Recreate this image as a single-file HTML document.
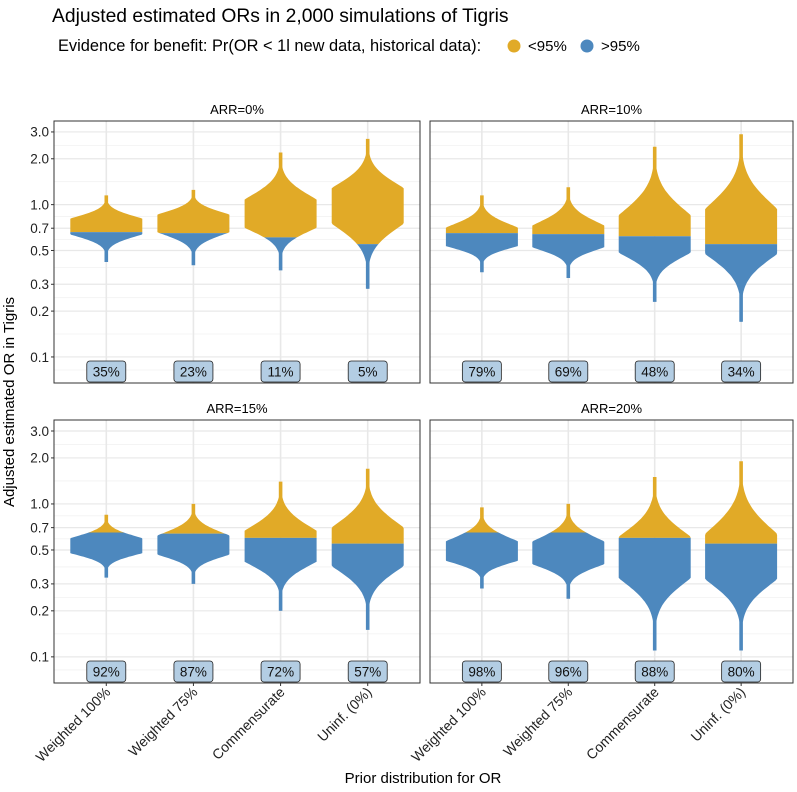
<!DOCTYPE html>
<html><head><meta charset="utf-8">
<style>
html,body{margin:0;padding:0;background:#fff;}
svg{display:block;font-family:"Liberation Sans",sans-serif;}
</style></head>
<body>
<svg id="chart" width="797" height="792" viewBox="0 0 797 792">
<text x="52" y="22" font-size="19.3" fill="#000">Adjusted estimated ORs in 2,000 simulations of Tigris</text>
<g>
<text x="58" y="51" font-size="16.4" fill="#000">Evidence for benefit: Pr(OR &lt; 1l new data, historical data):</text>
<circle cx="514" cy="46" r="6.5" fill="#E1AA27"/>
<text x="528" y="51" font-size="15">&lt;95%</text>
<circle cx="587" cy="46" r="6.5" fill="#4D88BE"/>
<text x="601" y="51" font-size="15">&gt;95%</text>
</g>
<text transform="translate(14,402) rotate(-90)" text-anchor="middle" font-size="15">Adjusted estimated OR in Tigris</text>
<text x="423" y="783" text-anchor="middle" font-size="15">Prior distribution for OR</text>
<defs id="defs"></defs>
<g id="plots"></g>
</svg>
<script>
// ---- data ----
const panelTitles = ["ARR=0%","ARR=10%","ARR=15%","ARR=20%"];
const categories = ["Weighted 100%","Weighted 75%","Commensurate","Uninf. (0%)"];
const yTicks = [0.1,0.2,0.3,0.5,0.7,1.0,2.0,3.0];
const yTickLabels = ["0.1","0.2","0.3","0.5","0.7","1.0","2.0","3.0"];
// per panel, per category: median OR, min OR, max OR, colour threshold OR, percent label
const medians = [[0.72,0.76,0.85,1.0],[0.60,0.60,0.60,0.64],[0.53,0.53,0.52,0.52],[0.48,0.47,0.45,0.44]];
const mins    = [[0.42,0.40,0.37,0.28],[0.36,0.33,0.23,0.17],[0.33,0.30,0.20,0.15],[0.28,0.24,0.11,0.11]];
const maxs    = [[1.15,1.25,2.2,2.7],[1.15,1.3,2.4,2.9],[0.85,1.0,1.4,1.7],[0.95,1.0,1.5,1.9]];
const thresholds = [[0.66,0.65,0.61,0.55],[0.65,0.64,0.62,0.55],[0.65,0.64,0.60,0.55],[0.65,0.65,0.60,0.55]];
const pctLabels = [["35%","23%","11%","5%"],["79%","69%","48%","34%"],["92%","87%","72%","57%"],["98%","96%","88%","80%"]];

const NS="http://www.w3.org/2000/svg";
const plots=document.getElementById('plots'), defs=document.getElementById('defs');
function mk(t,a,p){const e=document.createElementNS(NS,t);for(const k in a)e.setAttribute(k,a[k]);(p||plots).appendChild(e);return e;}
const panels=[{x0:54,x1:420,y0:121,y1:383},{x0:430,x1:793,y0:121,y1:383},{x0:54,x1:420,y0:420,y1:683},{x0:430,x1:793,y0:420,y1:683}];
const LMIN=-1.171, LMAX=0.549;
panels.forEach((P,pi)=>{
  const g=mk('g',{});
  
  
  const y=v=>P.y1-(Math.log10(v)-LMIN)/(LMAX-LMIN)*(P.y1-P.y0);
  const unit=(P.x1-P.x0)/4.2;
  const x=i=>P.x0+(i+0.6)*unit;
  mk('rect',{x:P.x0,y:P.y0,width:P.x1-P.x0,height:P.y1-P.y0,fill:'#fff'},g);
  const lt=yTicks.map(Math.log10);
  for(let k=0;k<lt.length-1;k++){const m=Math.pow(10,(lt[k]+lt[k+1])/2);mk('line',{x1:P.x0,x2:P.x1,y1:y(m),y2:y(m),stroke:'#f2f2f2','stroke-width':0.8},g);}
  [Math.pow(10,(LMIN+lt[0])/2)].forEach(m=>mk('line',{x1:P.x0,x2:P.x1,y1:y(m),y2:y(m),stroke:'#f2f2f2','stroke-width':0.8},g));
  yTicks.forEach(t=>mk('line',{x1:P.x0,x2:P.x1,y1:y(t),y2:y(t),stroke:'#e8e8e8','stroke-width':1.2},g));
  categories.forEach((c,i)=>mk('line',{x1:x(i),x2:x(i),y1:P.y0,y2:P.y1,stroke:'#e8e8e8','stroke-width':1.6},g));
  const st=mk('text',{x:(P.x0+P.x1)/2,y:P.y0-7,'text-anchor':'middle','font-size':13},g);st.textContent=panelTitles[pi];
  
  
  categories.forEach((c,i)=>{
    const med=Math.log10(medians[pi][i]), lo=Math.log10(mins[pi][i]), hi=Math.log10(maxs[pi][i]);
    const sdU=(hi-med)/3.4, sdD=(med-lo)/3.8, hw=36;
    const pts=[];
    const N=100;
    for(let k=0;k<=N;k++){const l=lo+(hi-lo)*k/N;const z=l>med?(l-med)/sdU:(med-l)/sdD;
      let w=Math.min(hw,hw*1.45*Math.exp(-z*z/2));w=Math.max(w,1.8);pts.push([y(Math.pow(10,l)),w]);}
    let d='M'+x(i)+','+pts[0][0];
    pts.forEach(p=>d+=' L'+(x(i)+p[1]).toFixed(1)+','+p[0].toFixed(1));
    for(let k=pts.length-1;k>=0;k--)d+=' L'+(x(i)-pts[k][1]).toFixed(1)+','+pts[k][0].toFixed(1);
    d+='Z';
    const ty=y(thresholds[pi][i]);
    const id='c'+pi+'_'+i;
    const cp=mk('clipPath',{id:id+'a'},defs);mk('rect',{x:0,y:0,width:797,height:ty},cp);
    const cp2=mk('clipPath',{id:id+'b'},defs);mk('rect',{x:0,y:ty,width:797,height:792},cp2);
    const s1=mk('path',{d:d,fill:'#E1AA27','clip-path':'url(#'+id+'a)'},g);
    
    
    const s2=mk('path',{d:d,fill:'#4D88BE','clip-path':'url(#'+id+'b)'},g);
    
    
    const lb=mk('rect',{x:x(i)-19.5,y:P.y1-22,width:39,height:21,rx:3,fill:'#B3CDE3',stroke:'#222','stroke-width':0.8},g);
    
    
    const lt2=mk('text',{x:x(i),y:P.y1-6.5,'text-anchor':'middle','font-size':13.5,fill:'#111'},g);lt2.textContent=pctLabels[pi][i];
    
    
  });
  mk('rect',{x:P.x0,y:P.y0,width:P.x1-P.x0,height:P.y1-P.y0,fill:'none',stroke:'#333','stroke-width':1},g);
  if(pi%2===0){
    yTicks.forEach((t,k)=>{mk('line',{x1:P.x0-3,x2:P.x0,y1:y(t),y2:y(t),stroke:'#333'},g);
      const tt=mk('text',{x:P.x0-5,y:y(t)+4.8,'text-anchor':'end','font-size':13.5,fill:'#222'},g);tt.textContent=yTickLabels[k];
      
      });
  }
  if(pi>=2){
    categories.forEach((c,i)=>{mk('line',{x1:x(i),x2:x(i),y1:P.y1,y2:P.y1+3,stroke:'#333'},g);
      const tt=mk('text',{transform:'translate('+(x(i)+5)+','+(P.y1+10)+') rotate(-45)','text-anchor':'end','font-size':14,fill:'#222'},g);tt.textContent=c;
      
      });
  }
});
</script>
</body></html>
